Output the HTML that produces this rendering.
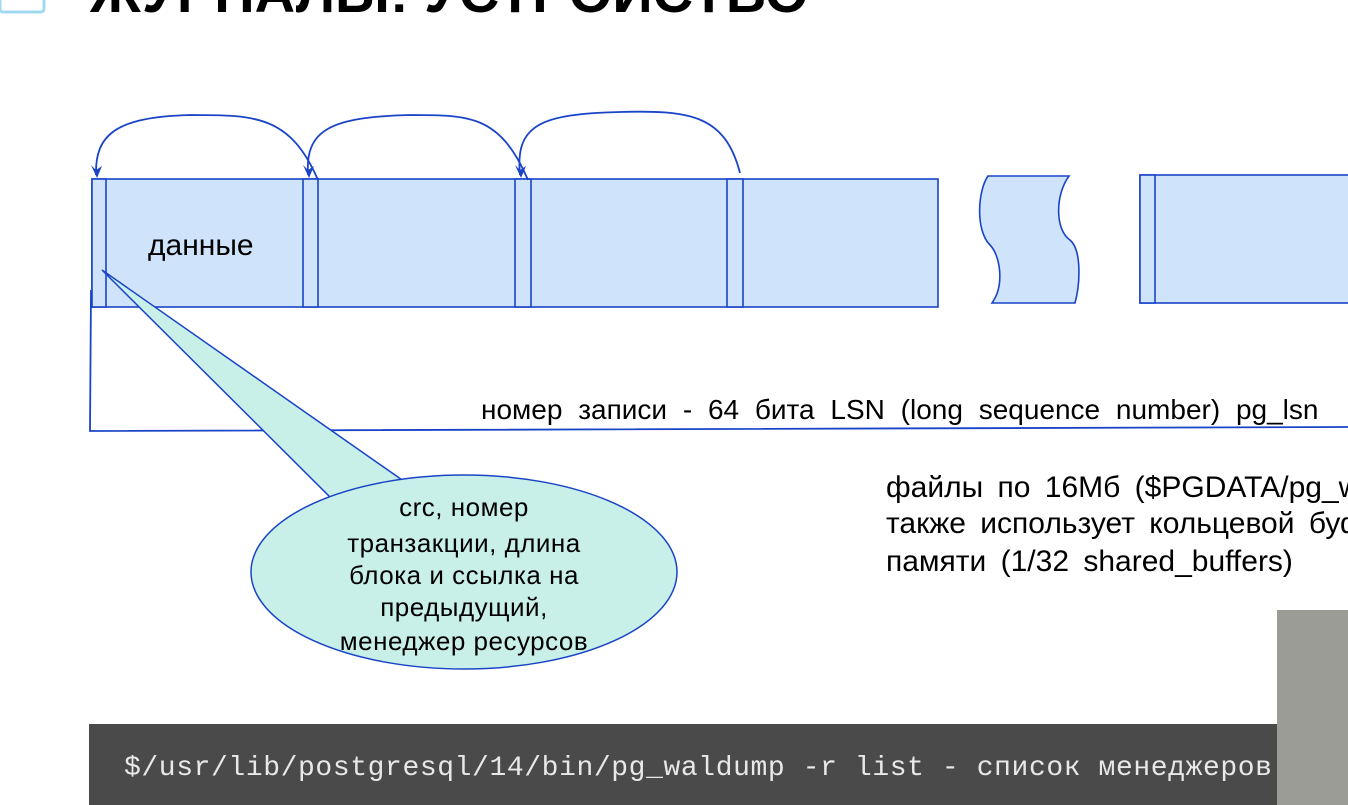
<!DOCTYPE html>
<html><head><meta charset="utf-8"><style>
html,body{margin:0;padding:0;background:#fff;width:1348px;height:805px;overflow:hidden}
svg{display:block}
</style></head><body>
<svg width="1348" height="805" viewBox="0 0 1348 805" xmlns="http://www.w3.org/2000/svg">
<rect x="0" y="-10" width="44" height="22" fill="#fff" stroke="#9fd9f0" stroke-width="3" rx="3"/>
<text x="90" y="12" font-family="Liberation Sans, sans-serif" font-weight="bold" font-size="56" fill="#000">ЖУРНАЛЫ: УСТРОЙСТВО</text>
<g stroke="#1a44c8" stroke-width="1.6" fill="#cfe4fb">
<rect x="92" y="179" width="846" height="128"/>
<rect x="92" y="179" width="14" height="128"/>
<rect x="303" y="179" width="15" height="128"/>
<rect x="515" y="179" width="16" height="128"/>
<rect x="727" y="179" width="16" height="128"/>
<path d="M988,176 L1069,176 C1055,195 1055,230 1070,240 C1082,250 1080,285 1075,303 L992,303 C1005,285 1000,255 990,245 C975,230 978,190 988,176 Z"/>
<rect x="1140" y="175" width="220" height="128"/>
<rect x="1140" y="175" width="15" height="128"/>
</g>
<g stroke="#1a44c8" stroke-width="1.8" fill="none">
<path d="M740,173 C725,115 690,110 620,112 C540,114 515,125 520,175"/>
<path d="M528,180 C500,115 470,115 410,115 C330,117 305,130 308,175"/>
<path d="M318,180 C290,115 255,115 190,115 C115,117 95,135 96,175"/>
<path d="M91,290 L90,431 L1348,427"/>
</g>
<g fill="#1a44c8">
<path d="M515,165 L521,178 L526,166 L520,170 Z"/>
<path d="M303,165 L309,178 L314,166 L308,170 Z"/>
<path d="M91,165 L97,178 L102,166 L96,170 Z"/>
</g>
<text x="481" y="419" font-family="Liberation Sans, sans-serif" font-size="28" fill="#000" word-spacing="8">номер записи - 64 бита LSN (long sequence number) pg_lsn</text>
<path d="M102,270 L405,482 L330,497 Z" fill="#c9f0e8" stroke="#1a44c8" stroke-width="1.5"/>
<ellipse cx="464" cy="572" rx="213" ry="97" fill="#c9f0e8" stroke="#1a44c8" stroke-width="1.5"/>
<text x="148" y="255" font-family="Liberation Sans, sans-serif" font-size="30" fill="#000">данные</text>
<g font-family="Liberation Sans, sans-serif" font-size="26" fill="#000" text-anchor="middle" letter-spacing="0.5">
<text x="464" y="516">crc, номер</text>
<text x="464" y="552">транзакции, длина</text>
<text x="464" y="584">блока и ссылка на</text>
<text x="464" y="616">предыдущий,</text>
<text x="464" y="650">менеджер ресурсов</text>
</g>
<g font-family="Liberation Sans, sans-serif" font-size="30" fill="#000" word-spacing="6">
<text x="886" y="497">файлы по 16Мб ($PGDATA/pg_wal)</text>
<text x="886" y="533">также использует кольцевой буфер</text>
<text x="886" y="571">памяти (1/32 shared_buffers)</text>
</g>
<rect x="89" y="724" width="1259" height="81" fill="#4a4a4a"/>
<text x="124" y="775" font-family="Liberation Mono, monospace" font-size="28" letter-spacing="0.6" fill="#e8e8e8">$/usr/lib/postgresql/14/bin/pg_waldump -r list - список менеджеров</text>
<rect x="1277" y="610" width="71" height="195" fill="#9c9c97"/>
</svg>
</body></html>
